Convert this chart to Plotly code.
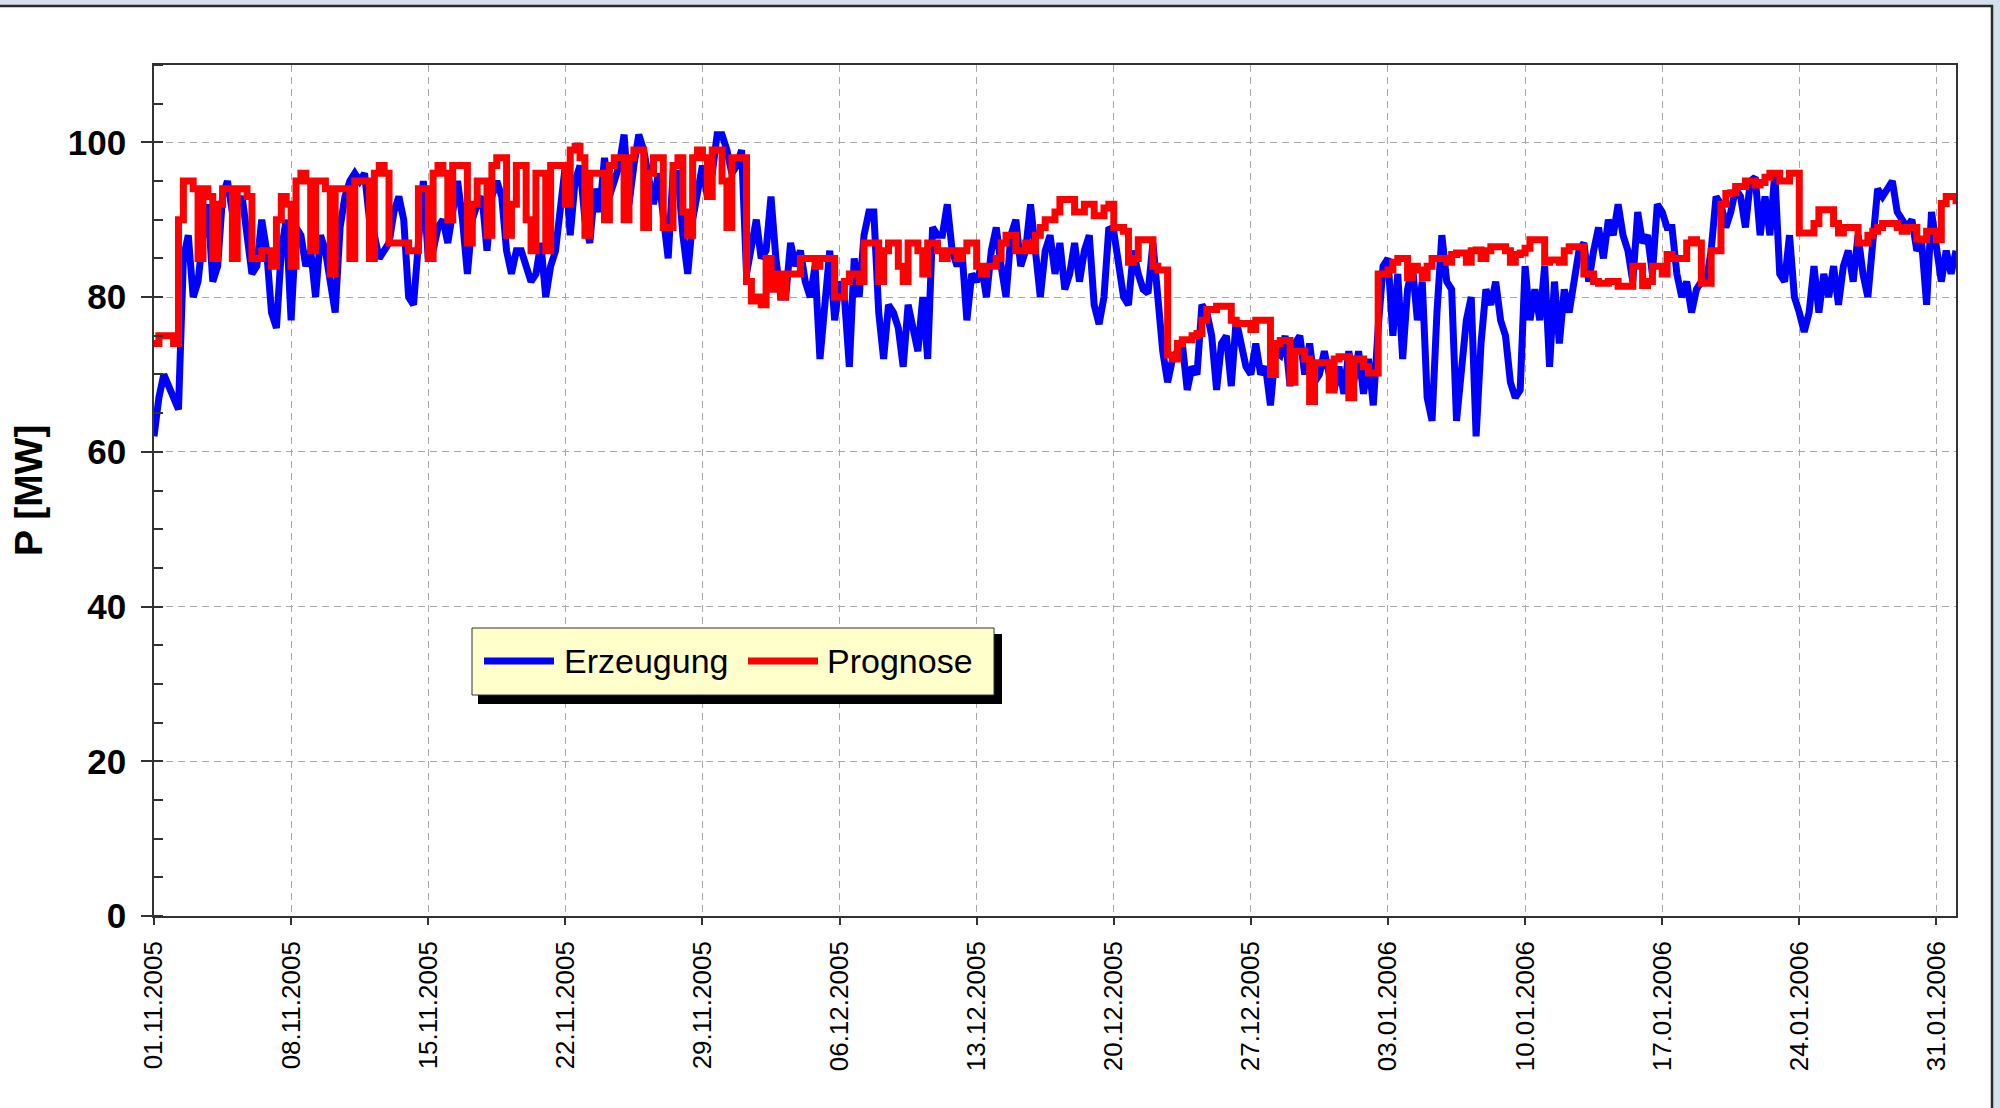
import pandas as pd
import plotly.graph_objects as go

# ---------------- data (6-hourly samples starting 01.11.2005 00:00) ----------------
start_time = "2005-11-01 00:00"
sample_step = "6h"

erzeugung = [
    # 01.11 - 07.11
    62, 67, 70, 68.5, 66.5, 65.5, 85, 88, 80, 82, 88, 92, 82, 84, 93, 95,
    91, 92, 93, 88, 83, 84, 90, 86, 78, 76, 86, 90,
    # 08.11 - 14.11
    77, 89, 88, 84, 86, 80, 88, 86, 82, 78, 89, 93, 95, 96, 95, 96,
    90, 88, 85, 86, 87, 91, 93, 90, 80, 79, 88, 95,
    # 15.11 - 21.11
    85, 86, 89, 90, 87, 91, 95, 90, 83, 90, 92, 93, 86, 93, 95, 93,
    86, 83, 86, 86, 84, 82, 83, 87, 80, 84, 86, 92,
    # 22.11 - 28.11
    97, 88, 95, 97, 90, 87, 94, 91, 98, 93, 95, 97, 101, 92, 97, 101,
    99, 95, 92, 96, 90, 85, 96, 96, 88, 83, 90, 94,
    # 29.11 - 05.12
    97, 93, 96, 101, 101, 99, 96, 97, 99, 83, 86, 90, 85, 86, 93, 85,
    80, 80, 87, 84, 86, 82, 80, 84, 72, 80, 86, 77,
    # 06.12 - 12.12
    82, 80, 71, 85, 80, 88, 91, 91, 78, 72, 79, 78, 76, 71, 79, 76,
    73, 80, 72, 89, 88, 88, 92, 86, 84, 86, 77, 83,
    # 13.12 - 19.12
    82, 84, 80, 86, 89, 84, 80, 88, 90, 84, 86, 92, 86, 80, 86, 88,
    83, 87, 81, 83, 87, 82, 86, 88, 79, 76.5, 80, 89,
    # 20.12 - 26.12
    88.5, 84, 80, 79, 86, 83, 81, 80.5, 87, 80, 73, 69, 72, 73, 74, 68,
    71, 70, 79, 78, 75, 68, 74, 75, 68.5, 77, 74, 71,
    # 27.12 - 02.01
    70, 74, 70, 71, 66, 73, 72.5, 75, 68.5, 74, 75, 70, 74, 69, 70, 73,
    70, 68, 71, 67.5, 73, 69, 73, 67.5, 72, 66, 76, 84,
    # 03.01 - 09.01
    85, 75, 83, 72, 81, 84, 77, 82, 67, 64, 78, 88, 82, 81, 64, 70,
    77, 80, 62, 74, 81, 79, 82, 77, 75, 69, 67, 68,
    # 10.01 - 16.01
    84, 77, 81, 77, 84, 71, 82, 74, 81, 78, 82, 86, 87, 82, 86, 89,
    85, 90, 88, 92, 88, 86, 82, 91, 87, 88, 83, 92,
    # 17.01 - 23.01
    91, 89, 89, 83, 80, 82, 78, 81, 82, 82, 86, 93, 92, 89, 91, 94,
    93, 89, 95, 95.5, 88, 93, 88, 96, 83, 82, 88, 80,
    # 24.01 - 30.01
    78, 75.5, 78, 84, 78, 83, 80, 84, 79, 84, 86, 82, 88, 83, 80, 87,
    94, 93, 94, 95, 91, 90, 89, 90, 86, 87, 79, 91,
    # 31.01 - 01.02
    87, 82, 86, 83, 86,
]

prognose = [
    # 01.11 - 07.11
    74, 75, 75, 75, 74, 90, 95, 95, 94, 85, 94, 93, 85, 92, 94, 94,
    85, 94, 94, 93, 85, 85, 86, 86, 84, 90, 93, 92,
    # 08.11 - 14.11
    84, 95, 96, 95, 86, 95, 95, 94, 83, 94, 94, 94, 85, 95, 95, 95,
    85, 96, 97, 96, 87, 87, 87, 87, 86, 86, 94, 94,
    # 15.11 - 21.11
    85, 96, 97, 96, 90, 97, 97, 97, 87, 92, 95, 95, 88, 97, 98, 98,
    88, 92, 97, 97, 90, 86, 96, 96, 86, 97, 97, 97,
    # 22.11 - 28.11
    92, 99, 99.5, 98, 88, 96, 96, 96, 90, 97, 98, 98, 90, 98, 99, 99,
    89, 96, 98, 98, 89, 89, 97, 98, 91, 88, 98, 99,
    # 29.11 - 05.12
    98, 93, 99, 99, 95, 89, 98, 98, 98, 82, 79.5, 80, 79, 85, 81, 83,
    80, 83, 83, 83, 85, 85, 85, 84, 85, 85, 85, 80,
    # 06.12 - 12.12
    80, 82, 83, 83, 82, 87, 87, 87, 82, 86, 87, 87, 84, 82, 87, 87,
    86, 83, 87, 87, 86, 85, 86, 86, 85, 86, 87, 87,
    # 13.12 - 19.12
    84, 83, 84, 84, 85, 87, 88, 88, 86, 86, 87, 86, 88, 89, 90, 90,
    91, 92.6, 92.6, 92.6, 91, 91, 92, 92, 90.5, 90.5, 91.5, 92,
    # 20.12 - 26.12
    89, 89, 88.5, 84.5, 85, 87.4, 87.4, 87.4, 84, 83.5, 83.5, 72.5, 72, 74, 74.5, 74.5,
    75, 75.3, 77, 78.4, 78.4, 78.8, 78.8, 78.8, 77, 76.6, 76.6, 76.6,
    # 27.12 - 02.01
    75.8, 77, 77, 77, 70, 74, 74.4, 74.4, 69, 73, 73, 72, 66.5, 71.5, 71.5, 71.5,
    68, 72, 72.3, 72.3, 67, 72, 72, 71, 70.2, 70.2, 83, 83,
    # 03.01 - 09.01
    83.5, 84.5, 85, 85, 82.5, 84, 83.5, 82.5, 84, 85, 85, 85, 84.5, 85.5, 85.7, 85.7,
    84.5, 86, 86.1, 85, 86, 86.5, 86.5, 86.5, 86, 84.5, 85.5, 85.7,
    # 10.01 - 16.01
    86.3, 87.4, 87.4, 87.4, 84.5, 84.8, 84.8, 84.5, 86, 86.5, 86.5, 86.5, 83, 83, 82, 81.8,
    81.8, 82, 82, 81.4, 81.4, 81.4, 84, 84, 81.5, 82, 84, 84,
    # 17.01 - 23.01
    83, 85.5, 85, 85, 85, 87, 87.4, 87, 81.8, 81.8, 86, 86, 92, 93.4, 93.5, 94.3,
    94.3, 95, 95, 94.5, 94.8, 95.5, 96, 96, 95, 95, 96, 96,
    # 24.01 - 30.01
    88.3, 88.3, 88.3, 89.5, 91.3, 91.3, 91.3, 89.5, 88.3, 89, 89, 89, 87, 87, 88, 88.5,
    89, 89.5, 89.5, 89.5, 89, 88.5, 89, 89, 87.5, 87.4, 88.5, 88.5,
    # 31.01 - 01.02
    87.4, 92.1, 93, 93, 92,
]

tick_dates = ["2005-11-01", "2005-11-08", "2005-11-15", "2005-11-22", "2005-11-29",
              "2005-12-06", "2005-12-13", "2005-12-20", "2005-12-27", "2006-01-03",
              "2006-01-10", "2006-01-17", "2006-01-24", "2006-01-31"]
tick_labels = ["01.11.2005", "08.11.2005", "15.11.2005", "22.11.2005", "29.11.2005",
               "06.12.2005", "13.12.2005", "20.12.2005", "27.12.2005", "03.01.2006",
               "10.01.2006", "17.01.2006", "24.01.2006", "31.01.2006"]
x_range = ["2005-11-01", "2006-02-01"]
y_range = [0, 110]
y_tick_values = [0, 20, 40, 60, 80, 100]

series_names = ["Erzeugung", "Prognose"]
series_colors = ["#0000FF", "#FF0000"]

# ---------------- figure ----------------
t_erz = pd.date_range(start_time, periods=len(erzeugung), freq=sample_step)
t_pro = pd.date_range(start_time, periods=len(prognose), freq=sample_step)

FONT = "Liberation Sans, Arial, sans-serif"
LINE_W = 7

fig = go.Figure()
fig.add_trace(go.Scatter(x=t_erz, y=erzeugung, mode="lines", name=series_names[0],
                         line=dict(color=series_colors[0], width=LINE_W, shape="linear"),
                         showlegend=False))
fig.add_trace(go.Scatter(x=t_pro, y=prognose, mode="lines", name=series_names[1],
                         line=dict(color=series_colors[1], width=LINE_W, shape="hv"),
                         showlegend=False))

L, R, T, B = 154, 44, 65, 192
W, H = 2000, 1108
pw, ph = W - L - R, H - T - B


def px(xp):
    return (xp - L) / pw


def py(yp):
    return (H - B - yp) / ph


shapes = [
    # outer white card with dark border
    dict(type="rect", xref="paper", yref="paper", layer="below",
         x0=px(-6), x1=px(1992), y0=py(1120), y1=py(6),
         fillcolor="white", line=dict(color="#2a2a2a", width=2.5)),
    # legend shadow
    dict(type="rect", xref="paper", yref="paper",
         x0=px(478), x1=px(1002), y0=py(704), y1=py(634),
         fillcolor="black", line=dict(width=0)),
    # legend box
    dict(type="rect", xref="paper", yref="paper",
         x0=px(472), x1=px(994), y0=py(695), y1=py(628),
         fillcolor="#FFFFCC", line=dict(color="#333333", width=1)),
    # legend samples
    dict(type="line", xref="paper", yref="paper",
         x0=px(484), x1=px(554), y0=py(661), y1=py(661),
         line=dict(color=series_colors[0], width=LINE_W)),
    dict(type="line", xref="paper", yref="paper",
         x0=px(748), x1=px(818), y0=py(661), y1=py(661),
         line=dict(color=series_colors[1], width=LINE_W)),
]

annotations = [
    dict(xref="paper", yref="paper", x=px(562), y=py(661), xanchor="left", yanchor="middle",
         text=series_names[0], showarrow=False, font=dict(family=FONT, size=34, color="black")),
    dict(xref="paper", yref="paper", x=px(825), y=py(661), xanchor="left", yanchor="middle",
         text=series_names[1], showarrow=False, font=dict(family=FONT, size=34, color="black")),
    dict(xref="paper", yref="paper", x=px(28), y=py(491), xanchor="center", yanchor="middle",
         text="<b>P [MW]</b>", textangle=-90, showarrow=False,
         font=dict(family=FONT, size=39, color="black")),
]

fig.update_layout(
    width=W, height=H,
    margin=dict(l=L, r=R, t=T, b=B, pad=0),
    paper_bgcolor="#D6E0EB",
    plot_bgcolor="white",
    shapes=shapes,
    annotations=annotations,
    showlegend=False,
    font=dict(family=FONT, color="black"),
)

fig.update_xaxes(
    type="date", range=x_range,
    tickvals=tick_dates, ticktext=tick_labels, tickangle=-90,
    tickfont=dict(family=FONT, size=26, color="black"),
    ticks="outside", ticklen=7, tickcolor="#333333", tickwidth=1.5,
    ticklabelstandoff=6,
    showgrid=True, gridcolor="#A8A8A8", gridwidth=1, griddash="7px,5px",
    showline=True, linecolor="#333333", linewidth=1.5, mirror=True,
    zeroline=False,
)
fig.update_yaxes(
    range=y_range, tickvals=y_tick_values,
    tickfont=dict(family=FONT, size=35, color="black", weight="bold"),
    ticks="outside", ticklen=11, tickcolor="#333333", tickwidth=1.5,
    ticklabelstandoff=8,
    minor=dict(dtick=5, ticks="inside", ticklen=9, tickcolor="#333333", showgrid=False),
    showgrid=True, gridcolor="#A8A8A8", gridwidth=1, griddash="7px,5px",
    showline=True, linecolor="#333333", linewidth=1.5, mirror=True,
    zeroline=False,
)

fig.write_html(
    "out.html",
    config={"displayModeBar": False},
    post_script="document.body.style.margin='0px';document.body.style.padding='0px';"
                "document.documentElement.style.overflow='hidden';",
)
